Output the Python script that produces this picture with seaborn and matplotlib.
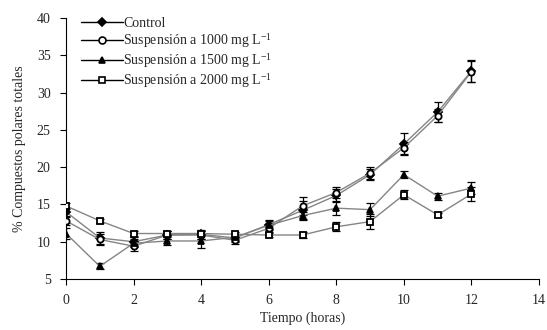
import matplotlib
matplotlib.use("Agg")
import matplotlib.pyplot as plt
from matplotlib.lines import Line2D
import seaborn as sns

# Data
horas = [0, 1, 2, 3, 4, 5, 6, 7, 8, 9, 10, 11, 12]

control = [14.0, 10.5, 10.0, 10.9, 11.0, 10.5, 12.3, 14.2, 16.2, 19.0, 23.1, 27.4, 32.9]
control_err = [0.5, 0.8, 0.6, 0.5, 0.6, 0.5, 0.6, 1.3, 0.9, 0.7, 1.5, 1.4, 1.5]

susp_1000 = [12.8, 10.3, 9.4, 10.9, 10.9, 10.2, 11.8, 14.8, 16.6, 19.2, 22.6, 26.9, 32.8]
susp_1000_err = [0.5, 0.8, 0.6, 0.5, 0.5, 0.5, 0.5, 1.2, 0.8, 0.8, 0.8, 0.9, 1.4]

susp_1500 = [11.1, 6.7, 9.8, 10.1, 10.1, 10.6, 12.2, 13.5, 14.5, 14.3, 19.0, 16.1, 17.2]
susp_1500_err = [0.8, 0.4, 0.5, 0.5, 1.0, 0.5, 0.6, 0.5, 0.9, 0.9, 0.5, 0.5, 0.8]

susp_2000 = [14.8, 12.8, 11.1, 11.1, 11.1, 11.0, 10.9, 10.9, 12.0, 12.7, 16.3, 13.6, 16.4]
susp_2000_err = [0.4, 0.3, 0.3, 0.3, 0.3, 0.3, 0.3, 0.4, 0.6, 1.0, 0.6, 0.3, 0.9]

labels = ["Control",
          "Suspensión a 1000 mg L$^{\\mathregular{-1}}$",
          "Suspensión a 1500 mg L$^{\\mathregular{-1}}$",
          "Suspensión a 2000 mg L$^{\\mathregular{-1}}$"]
series = [control, susp_1000, susp_1500, susp_2000]
errors = [control_err, susp_1000_err, susp_1500_err, susp_2000_err]
markers = ["D", "o", "^", "s"]
faces = ["black", "white", "black", "white"]
sizes = [4, 4.5, 4.5, 4.5]

sns.set_style("ticks")
plt.rcParams["font.family"] = ["Liberation Serif", "DejaVu Serif"]
plt.rcParams["mathtext.fontset"] = "stix"

fig = plt.figure(figsize=(5.47, 3.3), dpi=100)
ax = fig.add_axes([0.1207, 0.1545, 0.8647, 0.791])

for y, err, m, fc, ms in zip(series, errors, markers, faces, sizes):
    ax.errorbar(horas, y, yerr=err, fmt="none", ecolor="black",
                elinewidth=0.9, capsize=3, capthick=0.9, zorder=2)
    sns.lineplot(x=horas, y=y, ax=ax, color="#858585", linewidth=1.0,
                 marker=m, markersize=ms, markerfacecolor=fc,
                 markeredgecolor="black", markeredgewidth=1.3, zorder=3)

ax.set_xlim(0, 14)
ax.set_ylim(5, 40)
ax.set_xticks(range(0, 15, 2))
ax.set_yticks(range(5, 41, 5))
ax.tick_params(labelsize=10, direction="out", length=4, width=0.8,
               color="black", pad=7)
ax.set_xlabel("Tiempo (horas)", fontsize=10, labelpad=3)
ax.set_ylabel("% Compuestos polares totales", fontsize=10, labelpad=8)
for s in ["left", "bottom"]:
    ax.spines[s].set_color("black")
    ax.spines[s].set_linewidth(0.8)
sns.despine(ax=ax)

handles = [Line2D([0], [0], color="black", linewidth=1.0, marker=m,
                  markersize=ms + 0.5, markerfacecolor=fc, markeredgecolor="black",
                  markeredgewidth=1.2)
           for m, fc, ms in zip(markers, faces, sizes)]
ax.legend(handles, labels, loc="upper left", bbox_to_anchor=(0.015, 1.035),
          frameon=False, fontsize=10, handlelength=3.0, handletextpad=0.0,
          labelspacing=0.08, borderaxespad=0.2)

fig.savefig("out.png", dpi=100)
